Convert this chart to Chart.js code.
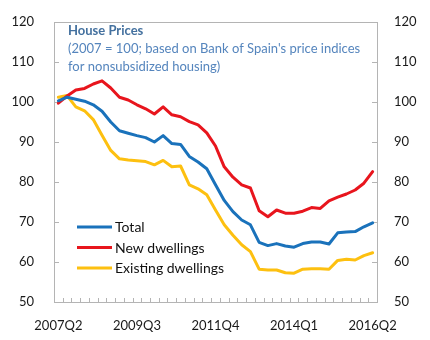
<!DOCTYPE html>
<html>
<head>
<meta charset="utf-8">
<script src="https://cdn.jsdelivr.net/npm/chart.js@4/dist/chart.umd.min.js"></script>
<style>
  html, body { margin: 0; padding: 0; background: #fff; }
  #wrap { width: 430px; height: 340px; }
</style>
</head>
<body>
<div id="wrap"><canvas id="c" width="430" height="340"></canvas></div>
<script>
// Quarterly house price indices, 2007 = 100
const quarters = [
  '2007Q2','2007Q3','2007Q4','2008Q1','2008Q2','2008Q3','2008Q4',
  '2009Q1','2009Q2','2009Q3','2009Q4','2010Q1','2010Q2','2010Q3','2010Q4',
  '2011Q1','2011Q2','2011Q3','2011Q4','2012Q1','2012Q2','2012Q3','2012Q4',
  '2013Q1','2013Q2','2013Q3','2013Q4','2014Q1','2014Q2','2014Q3','2014Q4',
  '2015Q1','2015Q2','2015Q3','2015Q4','2016Q1','2016Q2'
];
const xTickLabels = ['2007Q2', '2009Q3', '2011Q4', '2014Q1', '2016Q2'];

const total = [
  100.3, 101.2, 100.7, 100.2, 99.3, 97.7, 95.0,
  92.8, 92.2, 91.6, 91.1, 90.0, 91.6, 89.6, 89.4,
  86.4, 85.0, 83.3, 79.3, 75.4, 72.6, 70.5, 69.3,
  64.9, 64.1, 64.6, 64.0, 63.7, 64.6, 65.0, 65.0,
  64.5, 67.3, 67.5, 67.6, 68.8, 69.8
];
const newDwellings = [
  99.7, 101.5, 103.0, 103.4, 104.5, 105.3, 103.5,
  101.2, 100.5, 99.3, 98.3, 97.0, 98.8, 96.8, 96.3,
  95.1, 94.3, 92.3, 89.0, 83.8, 81.2, 79.3, 78.5,
  72.8, 71.3, 73.0, 72.2, 72.2, 72.7, 73.6, 73.4,
  75.3, 76.2, 77.0, 78.0, 79.7, 82.6
];
const existingDwellings = [
  101.2, 101.6, 98.8, 97.8, 95.6, 91.7, 87.9,
  85.8, 85.5, 85.3, 85.1, 84.3, 85.4, 83.8, 84.0,
  79.3, 78.3, 76.8, 73.0, 69.3, 66.7, 64.3, 62.6,
  58.2, 58.0, 58.0, 57.3, 57.2, 58.2, 58.3, 58.3,
  58.2, 60.4, 60.7, 60.5, 61.6, 62.3
];

const yMin = 50, yMax = 120, yStep = 10;

const titleText = 'House Prices';
const subtitleLines = [
  "(2007 = 100; based on Bank of Spain's price indices",
  'for nonsubsidized housing)'
];

const FONT = 'Lato, "Open Sans", sans-serif';
const AXIS_GREY = '#b4b4b4';

// Frame, inward tick marks, title block and in-plot legend
const decorations = {
  id: 'decorations',
  beforeDatasetsDraw(chart) {
    const { ctx, chartArea: a, scales } = chart;
    const x = scales.x, y = scales.y;
    ctx.save();
    ctx.strokeStyle = AXIS_GREY;
    ctx.lineWidth = 1;
    ctx.beginPath();
    ctx.moveTo(a.left, Math.round(a.top) + 0.5);
    ctx.lineTo(a.right, Math.round(a.top) + 0.5);
    y.ticks.forEach(t => {
      const py = Math.round(y.getPixelForValue(t.value)) + 0.5;
      ctx.moveTo(a.left, py); ctx.lineTo(a.left + 5, py);
      ctx.moveTo(a.right - 5, py); ctx.lineTo(a.right, py);
    });
    for (let i = 0; i <= quarters.length; i++) {
      const px = Math.round(x.getPixelForValue(i - 0.5)) + 0.5;
      ctx.moveTo(px, a.bottom); ctx.lineTo(px, a.bottom - 4);
    }
    ctx.stroke();
    ctx.restore();
  },
  afterDraw(chart) {
    const { ctx, chartArea: a } = chart;
    ctx.save();
    ctx.textBaseline = 'middle';
    ctx.textAlign = 'left';
    ctx.fillStyle = '#44719f';
    ctx.font = 'bold 13px ' + FONT;
    ctx.fillText(titleText, a.left + 14, 31);
    ctx.fillStyle = '#5585bd';
    ctx.font = '13px ' + FONT;
    subtitleLines.forEach((s, i) => ctx.fillText(s, a.left + 14, 49 + i * 17.5));

    // legend
    const rows = [227, 247.5, 268];
    chart.data.datasets.forEach((ds, i) => {
      ctx.strokeStyle = ds.borderColor;
      ctx.lineWidth = 3;
      ctx.beginPath();
      ctx.moveTo(a.left + 23, rows[i]);
      ctx.lineTo(a.left + 58, rows[i]);
      ctx.stroke();
      ctx.fillStyle = '#111';
      ctx.font = '14px ' + FONT;
      ctx.fillText(ds.label, a.left + 61, rows[i] + 0.5);
    });
    ctx.restore();
  }
};

const tickFont = { family: FONT, size: 13 };

new Chart(document.getElementById('c'), {
  type: 'line',
  data: {
    labels: quarters,
    datasets: [
      { label: 'Total', data: total, borderColor: '#1a72bb' },
      { label: 'New dwellings', data: newDwellings, borderColor: '#e8151d' },
      { label: 'Existing dwellings', data: existingDwellings, borderColor: '#fdc010' }
    ].map(d => Object.assign(d, {
      borderWidth: 3, pointRadius: 0, tension: 0, fill: false,
      borderJoinStyle: 'round', borderCapStyle: 'round'
    }))
  },
  options: {
    responsive: false,
    animation: false,
    devicePixelRatio: 1,
    layout: { padding: { top: 22, left: 0, right: 0, bottom: 0 } },
    plugins: { legend: { display: false }, tooltip: { enabled: false }, title: { display: false } },
    scales: {
      x: {
        type: 'category',
        offset: true,
        grid: { display: false },
        border: { display: true, color: AXIS_GREY, width: 1 },
        ticks: {
          autoSkip: false, maxRotation: 0, minRotation: 0,
          color: '#1a1a1a', font: tickFont, padding: 8,
          callback: (v, i) => xTickLabels.includes(quarters[i]) ? quarters[i] : ''
        },
        afterFit: s => { s.height = 38; }
      },
      y: {
        position: 'left',
        min: yMin, max: yMax,
        grid: { display: false },
        border: { display: true, color: AXIS_GREY, width: 1 },
        ticks: { stepSize: yStep, color: '#1a1a1a', font: tickFont, padding: 12 },
        afterFit: s => { s.width = 54; }
      },
      y2: {
        position: 'right',
        min: yMin, max: yMax,
        grid: { display: false },
        border: { display: true, color: AXIS_GREY, width: 1 },
        ticks: { stepSize: yStep, color: '#1a1a1a', font: tickFont, padding: 9 },
        afterFit: s => { s.width = 53; }
      }
    }
  },
  plugins: [decorations]
});
</script>
</body>
</html>
